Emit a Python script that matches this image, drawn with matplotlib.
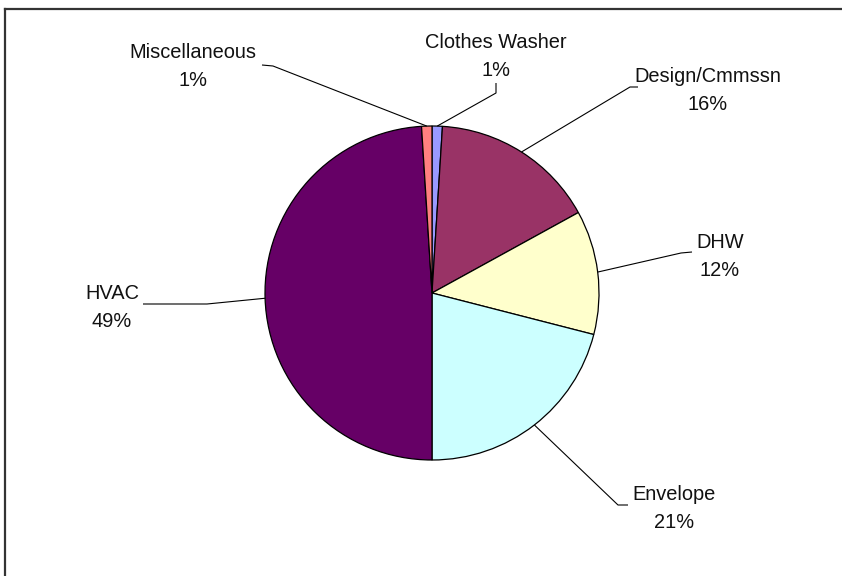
import numpy as np
import matplotlib.pyplot as plt
from matplotlib.lines import Line2D

plt.rcParams['font.family'] = ['Liberation Sans', 'DejaVu Sans']

# Share of measures by end use (clockwise from 12 o'clock)
categories = ['Clothes Washer', 'Design/Cmmssn', 'DHW', 'Envelope', 'HVAC', 'Miscellaneous']
shares = [1, 16, 12, 21, 49, 1]
colors = ['#9999FF', '#993366', '#FFFFCC', '#CCFFFF', '#660066', '#FF8080']

W, H = 842, 576
cx, cy, r = 432, H - 293, 167

# label layout in pixels (y down): name baseline, horizontal center, leader start, leader elbow
label_pos = {
    'Clothes Washer': (496, 48, (496, 83), (496, 93)),
    'Design/Cmmssn':  (708, 82, (638, 87), (630, 87)),
    'DHW':            (720, 248, (692, 252), (681, 253)),
    'Envelope':       (674, 500, (628, 505), (618, 505)),
    'HVAC':           (112, 299, (143, 304), (207, 304)),
    'Miscellaneous':  (193, 58, (262, 65), (273, 66)),
}

fig = plt.figure(figsize=(W / 100, H / 100), dpi=100)
ax = fig.add_axes([0, 0, 1, 1])

wedges, _ = ax.pie(shares, colors=colors, startangle=90, counterclock=False,
                   center=(cx, cy), radius=r,
                   wedgeprops=dict(edgecolor='black', linewidth=0.9))
ax.set_xlim(0, W)
ax.set_ylim(0, H)
ax.set_aspect('equal')
ax.axis('off')

for w, name, val in zip(wedges, categories, shares):
    tx, ty, p0, p1 = label_pos[name]
    ang = np.deg2rad((w.theta1 + w.theta2) / 2)
    ex, ey = cx + r * np.cos(ang), cy + r * np.sin(ang)
    ax.plot([p0[0], p1[0], ex], [H - p0[1], H - p1[1], ey],
            color='black', lw=0.8, solid_capstyle='butt')
    ax.text(tx, H - ty, name, ha='center', va='baseline', fontsize=14.4, color='#111111')
    ax.text(tx, H - ty - 28, f"{val}%", ha='center', va='baseline', fontsize=14.4, color='#111111')

# outer frame (top and left edges only)
fig.add_artist(Line2D([5 / W, 1], [1 - 8.5 / H, 1 - 8.5 / H], color='#333333', lw=1.6))
fig.add_artist(Line2D([5 / W, 5 / W], [0, 1 - 8.5 / H], color='#333333', lw=1.6))

fig.savefig('out.png', dpi=100, facecolor='white')
